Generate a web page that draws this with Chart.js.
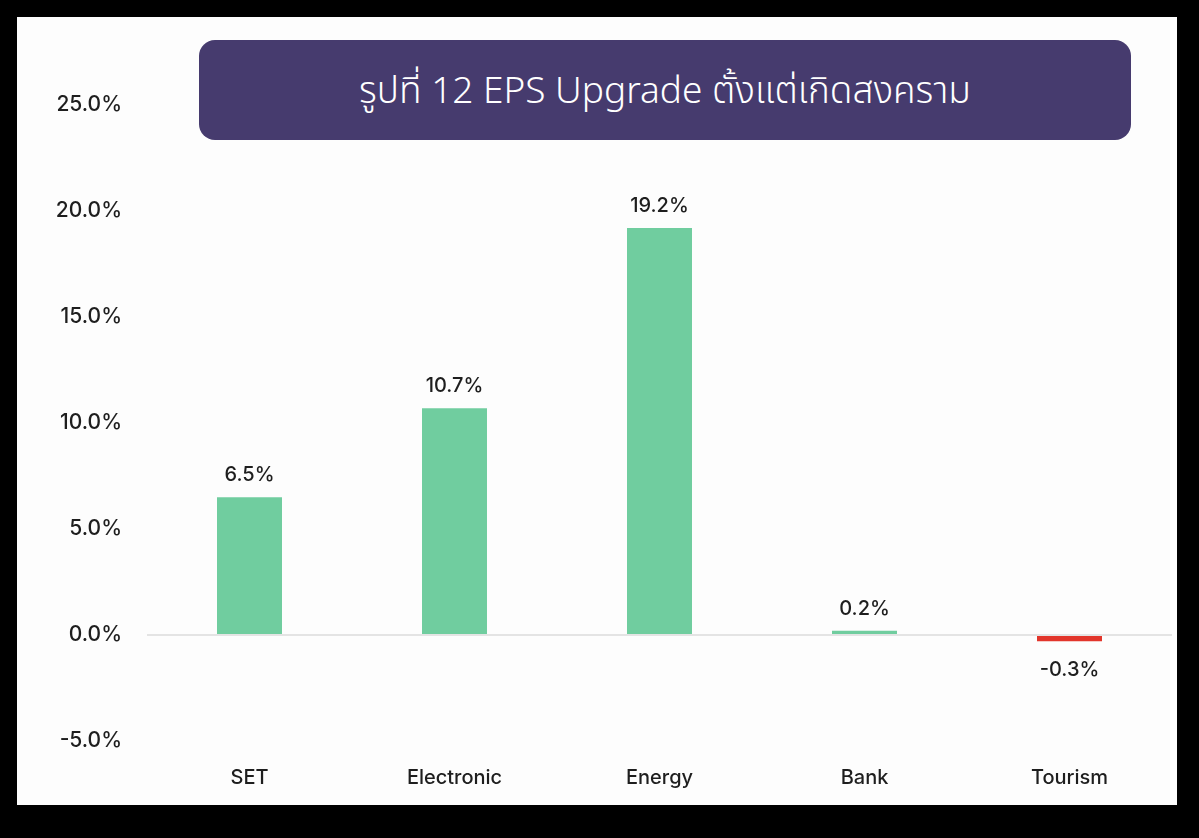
<!DOCTYPE html>
<html>
<head>
<meta charset="utf-8">
<script src="https://cdn.jsdelivr.net/npm/chart.js@4/dist/chart.umd.min.js"></script>
<style>
  html, body { margin: 0; padding: 0; background: #000; }
  body { width: 1199px; height: 838px; position: relative; overflow: hidden; }
  #panel { position: absolute; left: 17px; top: 17px; width: 1160px; height: 788px; background: #fdfdfd; }
  #chart { position: absolute; left: 0; top: 0; }
  #title {
    position: absolute; left: 199px; top: 40px; width: 932px; height: 100px;
    background: #463b6e; border-radius: 16px; color: #fff;
    font-family: "Noto Sans Thai", "Noto Sans", "DejaVu Sans", sans-serif;
    font-size: 37px; font-weight: 300; box-sizing: border-box; padding-top: 4px;
    display: flex; align-items: center; justify-content: center;
  }
</style>
</head>
<body>
<div id="panel"></div>
<canvas id="chart" width="1199" height="838"></canvas>
<div id="title">รูปที่ 12 EPS Upgrade ตั้งแต่เกิดสงคราม</div>
<script>
const categories = ["SET", "Electronic", "Energy", "Bank", "Tourism"];
const epsUpgrade = [6.5, 10.7, 19.2, 0.2, -0.3];
const yMin = -5;
const yMax = 25;
const yStep = 5;

const labelFont = { family: "Inter, 'Noto Sans', sans-serif", size: 20, weight: "500" };

const valueLabels = {
    id: "valueLabels",
    afterDatasetsDraw(chart) {
        const ctx = chart.ctx;
        const meta = chart.getDatasetMeta(0);
        ctx.save();
        ctx.font = "500 20px Inter, 'Noto Sans', sans-serif";
        ctx.fillStyle = "#1e1e1e";
        ctx.textAlign = "center";
        ctx.textBaseline = "middle";
        meta.data.forEach((bar, i) => {
            const v = epsUpgrade[i];
            const y = v >= 0 ? bar.y - 22 : bar.y + 29;
            ctx.fillText(v.toFixed(1) + "%", bar.x, y);
        });
        ctx.restore();
    }
};

const chart = document.querySelector("#chart").getContext("2d");

new Chart(chart, {
    type: "bar",
    data: {
        labels: categories,
        datasets: [
            {
                data: epsUpgrade,
                backgroundColor: epsUpgrade.map(v => v < 0 ? "#e2352b" : "#70cd9f"),
                categoryPercentage: 1,
                barPercentage: 0.317,
            },
        ],
    },
    options: {
        responsive: false,
        animation: false,
        layout: { padding: { top: 105, right: 27, left: 0, bottom: 0 } },
        plugins: {
            legend: { display: false },
            tooltip: { enabled: false },
        },
        scales: {
            x: {
                grid: { display: false, drawTicks: false },
                border: { display: false },
                ticks: { color: "#1e1e1e", font: labelFont, padding: 25 },
                afterFit: (scale) => { scale.height = 97; },
            },
            y: {
                min: yMin,
                max: yMax,
                grid: {
                    drawTicks: false,
                    color: (c) => c.tick && c.tick.value === 0 ? "#e4e4e4" : "rgba(0,0,0,0)",
                    lineWidth: 2,
                },
                border: { display: false },
                ticks: {
                    stepSize: yStep,
                    color: "#1e1e1e",
                    font: { family: "Inter, 'Noto Sans', sans-serif", size: 21, weight: "500" },
                    padding: 25,
                    callback: (v) => v.toFixed(1) + "%",
                },
                afterFit: (scale) => { scale.width = 147; },
            },
        },
    },
    plugins: [valueLabels],
});
</script>
</body>
</html>
